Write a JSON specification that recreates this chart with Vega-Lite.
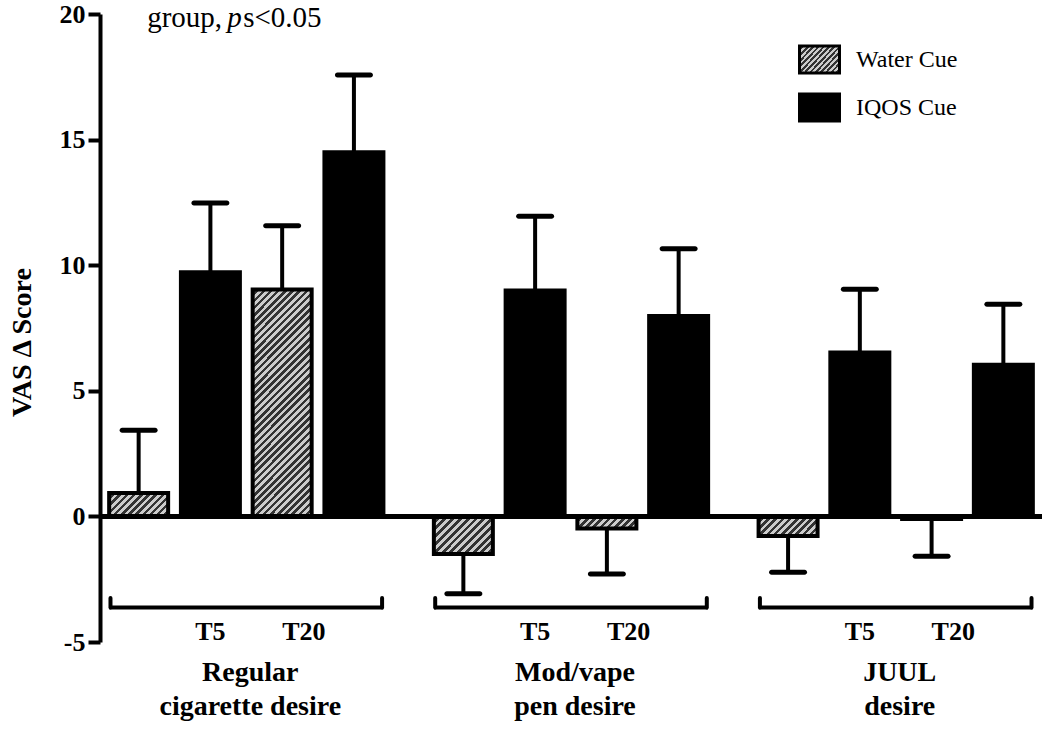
{
"$schema": "https://vega.github.io/schema/vega-lite/v6.json",
"width": 942, "height": 628,
"autosize": {"type": "none"},
"padding": {"left": 100, "top": 14, "right": 8, "bottom": 88},
"background": "white",
"config": {
  "view": {"stroke": null},
  "font": "Liberation Serif",
  "axisY": {"domainColor": "black", "domainWidth": 4, "tickColor": "black", "tickWidth": 4, "tickSize": 12, "labelFont": "Liberation Serif", "labelFontSize": 26, "labelFontWeight": "bold", "labelColor": "black", "labelPadding": 3, "grid": false, "labelExpr": "datum.value < 0 ? '-' + (-datum.value) : '' + datum.value", "titleFont": "Liberation Serif", "titleFontSize": 28, "titleFontWeight": "bold", "titleColor": "black", "titleX": -78, "titleY": 328, "titleAngle": -90, "titleAlign": "center", "titleBaseline": "middle"},
  "axisX": {"domain": false, "ticks": false, "tickSize": 0, "grid": false, "labelFont": "Liberation Serif", "labelFontSize": 28, "labelFontWeight": "bold", "labelColor": "black", "labelPadding": 38, "labelBaseline": "alphabetic", "labelLineHeight": 34, "labelOffset": 4, "labelAngle": 0, "labelLimit": 400, "labelExpr": "datum.label == 'Regular cigarette desire' ? ['Regular', 'cigarette desire'] : datum.label == 'Mod/vape pen desire' ? ['Mod/vape', 'pen desire'] : ['JUUL', 'desire']"}
},
"data": {"values": [
  {"group": "Regular cigarette desire", "time": "T5", "cue": "Water Cue", "slot": "W5", "id": "g1w5", "mean": 0.93, "err": 3.43},
  {"group": "Regular cigarette desire", "time": "T5", "cue": "IQOS Cue", "slot": "I5", "id": "g1i5", "mean": 9.72, "err": 12.48},
  {"group": "Regular cigarette desire", "time": "T20", "cue": "Water Cue", "slot": "W20", "id": "g1w20", "mean": 9.03, "err": 11.57},
  {"group": "Regular cigarette desire", "time": "T20", "cue": "IQOS Cue", "slot": "I20", "id": "g1i20", "mean": 14.5, "err": 17.57},
  {"group": "Mod/vape pen desire", "time": "T5", "cue": "Water Cue", "slot": "W5", "id": "g2w5", "mean": -1.5, "err": -3.08},
  {"group": "Mod/vape pen desire", "time": "T5", "cue": "IQOS Cue", "slot": "I5", "id": "g2i5", "mean": 8.99, "err": 11.95},
  {"group": "Mod/vape pen desire", "time": "T20", "cue": "Water Cue", "slot": "W20", "id": "g2w20", "mean": -0.48, "err": -2.29},
  {"group": "Mod/vape pen desire", "time": "T20", "cue": "IQOS Cue", "slot": "I20", "id": "g2i20", "mean": 7.98, "err": 10.65},
  {"group": "JUUL desire", "time": "T5", "cue": "Water Cue", "slot": "W5", "id": "g3w5", "mean": -0.78, "err": -2.22},
  {"group": "JUUL desire", "time": "T5", "cue": "IQOS Cue", "slot": "I5", "id": "g3i5", "mean": 6.52, "err": 9.04},
  {"group": "JUUL desire", "time": "T20", "cue": "Water Cue", "slot": "W20", "id": "g3w20", "mean": -0.1, "err": -1.59},
  {"group": "JUUL desire", "time": "T20", "cue": "IQOS Cue", "slot": "I20", "id": "g3i20", "mean": 6.04, "err": 8.45}
]},
"layer": [
  {
    "mark": {"type": "bar", "stroke": "black", "strokeWidth": 4, "opacity": 1},
    "encoding": {
      "x": {"field": "group", "type": "nominal", "scale": {"domain": ["Regular cigarette desire", "Mod/vape pen desire", "JUUL desire"], "paddingInner": 0.143, "paddingOuter": 0.022}, "axis": {"title": null}},
      "xOffset": {"field": "slot", "type": "nominal", "scale": {"domain": ["W5", "I5", "W20", "I20"], "paddingInner": 0.178, "paddingOuter": 0.028}},
      "y": {"field": "mean", "type": "quantitative", "stack": null, "scale": {"domain": [-5, 20], "nice": false}, "title": "VAS Δ Score", "axis": {"values": [-5, 0, 5, 10, 15, 20], "title": "VAS Δ Score"}},
      "fill": {
        "condition": [
          {"test": "datum.id === 'g1w5'", "value": {"gradient": "linear", "x1": 0, "y1": 0, "x2": 1.315, "y2": 0.52, "stops": [{"offset":0,"color":"#ccc"},{"offset":0.04,"color":"#ccc"},{"offset":0.04,"color":"#333"},{"offset":0.08,"color":"#333"},{"offset":0.08,"color":"#ccc"},{"offset":0.12,"color":"#ccc"},{"offset":0.12,"color":"#333"},{"offset":0.16,"color":"#333"},{"offset":0.16,"color":"#ccc"},{"offset":0.2,"color":"#ccc"},{"offset":0.2,"color":"#333"},{"offset":0.24,"color":"#333"},{"offset":0.24,"color":"#ccc"},{"offset":0.28,"color":"#ccc"},{"offset":0.28,"color":"#333"},{"offset":0.32,"color":"#333"},{"offset":0.32,"color":"#ccc"},{"offset":0.36,"color":"#ccc"},{"offset":0.36,"color":"#333"},{"offset":0.4,"color":"#333"},{"offset":0.4,"color":"#ccc"},{"offset":0.44,"color":"#ccc"},{"offset":0.44,"color":"#333"},{"offset":0.48,"color":"#333"},{"offset":0.48,"color":"#ccc"},{"offset":0.52,"color":"#ccc"},{"offset":0.52,"color":"#333"},{"offset":0.56,"color":"#333"},{"offset":0.56,"color":"#ccc"},{"offset":0.6,"color":"#ccc"},{"offset":0.6,"color":"#333"},{"offset":0.64,"color":"#333"},{"offset":0.64,"color":"#ccc"},{"offset":0.68,"color":"#ccc"},{"offset":0.68,"color":"#333"},{"offset":0.72,"color":"#333"},{"offset":0.72,"color":"#ccc"},{"offset":0.76,"color":"#ccc"},{"offset":0.76,"color":"#333"},{"offset":0.8,"color":"#333"},{"offset":0.8,"color":"#ccc"},{"offset":0.84,"color":"#ccc"},{"offset":0.84,"color":"#333"},{"offset":0.88,"color":"#333"},{"offset":0.88,"color":"#ccc"},{"offset":0.92,"color":"#ccc"},{"offset":0.92,"color":"#333"},{"offset":0.96,"color":"#333"},{"offset":0.96,"color":"#ccc"},{"offset":1,"color":"#ccc"}]}},
          {"test": "datum.id === 'g1w20'", "value": {"gradient": "linear", "x1": 0, "y1": 0, "x2": 0.3103, "y2": 1.1889, "stops": [
            {"offset":0,"color":"#ccc"},{"offset":0.0125,"color":"#ccc"},{"offset":0.0125,"color":"#333"},{"offset":0.025,"color":"#333"},
            {"offset":0.025,"color":"#ccc"},{"offset":0.0375,"color":"#ccc"},{"offset":0.0375,"color":"#333"},{"offset":0.05,"color":"#333"},
            {"offset":0.05,"color":"#ccc"},{"offset":0.0625,"color":"#ccc"},{"offset":0.0625,"color":"#333"},{"offset":0.075,"color":"#333"},
            {"offset":0.075,"color":"#ccc"},{"offset":0.0875,"color":"#ccc"},{"offset":0.0875,"color":"#333"},{"offset":0.1,"color":"#333"},
            {"offset":0.1,"color":"#ccc"},{"offset":0.1125,"color":"#ccc"},{"offset":0.1125,"color":"#333"},{"offset":0.125,"color":"#333"},
            {"offset":0.125,"color":"#ccc"},{"offset":0.1375,"color":"#ccc"},{"offset":0.1375,"color":"#333"},{"offset":0.15,"color":"#333"},
            {"offset":0.15,"color":"#ccc"},{"offset":0.1625,"color":"#ccc"},{"offset":0.1625,"color":"#333"},{"offset":0.175,"color":"#333"},
            {"offset":0.175,"color":"#ccc"},{"offset":0.1875,"color":"#ccc"},{"offset":0.1875,"color":"#333"},{"offset":0.2,"color":"#333"},
            {"offset":0.2,"color":"#ccc"},{"offset":0.2125,"color":"#ccc"},{"offset":0.2125,"color":"#333"},{"offset":0.225,"color":"#333"},
            {"offset":0.225,"color":"#ccc"},{"offset":0.2375,"color":"#ccc"},{"offset":0.2375,"color":"#333"},{"offset":0.25,"color":"#333"},
            {"offset":0.25,"color":"#ccc"},{"offset":0.2625,"color":"#ccc"},{"offset":0.2625,"color":"#333"},{"offset":0.275,"color":"#333"},
            {"offset":0.275,"color":"#ccc"},{"offset":0.2875,"color":"#ccc"},{"offset":0.2875,"color":"#333"},{"offset":0.3,"color":"#333"},
            {"offset":0.3,"color":"#ccc"},{"offset":0.3125,"color":"#ccc"},{"offset":0.3125,"color":"#333"},{"offset":0.325,"color":"#333"},
            {"offset":0.325,"color":"#ccc"},{"offset":0.3375,"color":"#ccc"},{"offset":0.3375,"color":"#333"},{"offset":0.35,"color":"#333"},
            {"offset":0.35,"color":"#ccc"},{"offset":0.3625,"color":"#ccc"},{"offset":0.3625,"color":"#333"},{"offset":0.375,"color":"#333"},
            {"offset":0.375,"color":"#ccc"},{"offset":0.3875,"color":"#ccc"},{"offset":0.3875,"color":"#333"},{"offset":0.4,"color":"#333"},
            {"offset":0.4,"color":"#ccc"},{"offset":0.4125,"color":"#ccc"},{"offset":0.4125,"color":"#333"},{"offset":0.425,"color":"#333"},
            {"offset":0.425,"color":"#ccc"},{"offset":0.4375,"color":"#ccc"},{"offset":0.4375,"color":"#333"},{"offset":0.45,"color":"#333"},
            {"offset":0.45,"color":"#ccc"},{"offset":0.4625,"color":"#ccc"},{"offset":0.4625,"color":"#333"},{"offset":0.475,"color":"#333"},
            {"offset":0.475,"color":"#ccc"},{"offset":0.4875,"color":"#ccc"},{"offset":0.4875,"color":"#333"},{"offset":0.5,"color":"#333"},
            {"offset":0.5,"color":"#ccc"},{"offset":0.5125,"color":"#ccc"},{"offset":0.5125,"color":"#333"},{"offset":0.525,"color":"#333"},
            {"offset":0.525,"color":"#ccc"},{"offset":0.5375,"color":"#ccc"},{"offset":0.5375,"color":"#333"},{"offset":0.55,"color":"#333"},
            {"offset":0.55,"color":"#ccc"},{"offset":0.5625,"color":"#ccc"},{"offset":0.5625,"color":"#333"},{"offset":0.575,"color":"#333"},
            {"offset":0.575,"color":"#ccc"},{"offset":0.5875,"color":"#ccc"},{"offset":0.5875,"color":"#333"},{"offset":0.6,"color":"#333"},
            {"offset":0.6,"color":"#ccc"},{"offset":0.6125,"color":"#ccc"},{"offset":0.6125,"color":"#333"},{"offset":0.625,"color":"#333"},
            {"offset":0.625,"color":"#ccc"},{"offset":0.6375,"color":"#ccc"},{"offset":0.6375,"color":"#333"},{"offset":0.65,"color":"#333"},
            {"offset":0.65,"color":"#ccc"},{"offset":0.6625,"color":"#ccc"},{"offset":0.6625,"color":"#333"},{"offset":0.675,"color":"#333"},
            {"offset":0.675,"color":"#ccc"},{"offset":0.6875,"color":"#ccc"},{"offset":0.6875,"color":"#333"},{"offset":0.7,"color":"#333"},
            {"offset":0.7,"color":"#ccc"},{"offset":0.7125,"color":"#ccc"},{"offset":0.7125,"color":"#333"},{"offset":0.725,"color":"#333"},
            {"offset":0.725,"color":"#ccc"},{"offset":0.7375,"color":"#ccc"},{"offset":0.7375,"color":"#333"},{"offset":0.75,"color":"#333"},
            {"offset":0.75,"color":"#ccc"},{"offset":0.7625,"color":"#ccc"},{"offset":0.7625,"color":"#333"},{"offset":0.775,"color":"#333"},
            {"offset":0.775,"color":"#ccc"},{"offset":0.7875,"color":"#ccc"},{"offset":0.7875,"color":"#333"},{"offset":0.8,"color":"#333"},
            {"offset":0.8,"color":"#ccc"},{"offset":0.8125,"color":"#ccc"},{"offset":0.8125,"color":"#333"},{"offset":0.825,"color":"#333"},
            {"offset":0.825,"color":"#ccc"},{"offset":0.8375,"color":"#ccc"},{"offset":0.8375,"color":"#333"},{"offset":0.85,"color":"#333"},
            {"offset":0.85,"color":"#ccc"},{"offset":0.8625,"color":"#ccc"},{"offset":0.8625,"color":"#333"},{"offset":0.875,"color":"#333"},
            {"offset":0.875,"color":"#ccc"},{"offset":0.8875,"color":"#ccc"},{"offset":0.8875,"color":"#333"},{"offset":0.9,"color":"#333"},
            {"offset":0.9,"color":"#ccc"},{"offset":0.9125,"color":"#ccc"},{"offset":0.9125,"color":"#333"},{"offset":0.925,"color":"#333"},
            {"offset":0.925,"color":"#ccc"},{"offset":0.9375,"color":"#ccc"},{"offset":0.9375,"color":"#333"},{"offset":0.95,"color":"#333"},
            {"offset":0.95,"color":"#ccc"},{"offset":0.9625,"color":"#ccc"},{"offset":0.9625,"color":"#333"},{"offset":0.975,"color":"#333"},
            {"offset":0.975,"color":"#ccc"},{"offset":0.9875,"color":"#ccc"},{"offset":0.9875,"color":"#333"},{"offset":1,"color":"#333"}]}},
          {"test": "datum.id === 'g2w5'", "value": {"gradient": "linear", "x1": 0, "y1": 0, "x2": 1.172, "y2": 0.746, "stops": [{"offset":0,"color":"#ccc"},{"offset":0.04,"color":"#ccc"},{"offset":0.04,"color":"#333"},{"offset":0.08,"color":"#333"},{"offset":0.08,"color":"#ccc"},{"offset":0.12,"color":"#ccc"},{"offset":0.12,"color":"#333"},{"offset":0.16,"color":"#333"},{"offset":0.16,"color":"#ccc"},{"offset":0.2,"color":"#ccc"},{"offset":0.2,"color":"#333"},{"offset":0.24,"color":"#333"},{"offset":0.24,"color":"#ccc"},{"offset":0.28,"color":"#ccc"},{"offset":0.28,"color":"#333"},{"offset":0.32,"color":"#333"},{"offset":0.32,"color":"#ccc"},{"offset":0.36,"color":"#ccc"},{"offset":0.36,"color":"#333"},{"offset":0.4,"color":"#333"},{"offset":0.4,"color":"#ccc"},{"offset":0.44,"color":"#ccc"},{"offset":0.44,"color":"#333"},{"offset":0.48,"color":"#333"},{"offset":0.48,"color":"#ccc"},{"offset":0.52,"color":"#ccc"},{"offset":0.52,"color":"#333"},{"offset":0.56,"color":"#333"},{"offset":0.56,"color":"#ccc"},{"offset":0.6,"color":"#ccc"},{"offset":0.6,"color":"#333"},{"offset":0.64,"color":"#333"},{"offset":0.64,"color":"#ccc"},{"offset":0.68,"color":"#ccc"},{"offset":0.68,"color":"#333"},{"offset":0.72,"color":"#333"},{"offset":0.72,"color":"#ccc"},{"offset":0.76,"color":"#ccc"},{"offset":0.76,"color":"#333"},{"offset":0.8,"color":"#333"},{"offset":0.8,"color":"#ccc"},{"offset":0.84,"color":"#ccc"},{"offset":0.84,"color":"#333"},{"offset":0.88,"color":"#333"},{"offset":0.88,"color":"#ccc"},{"offset":0.92,"color":"#ccc"},{"offset":0.92,"color":"#333"},{"offset":0.96,"color":"#333"},{"offset":0.96,"color":"#ccc"},{"offset":1,"color":"#ccc"}]}},
          {"test": "datum.id === 'g2w20'", "value": {"gradient": "linear", "x1": 0, "y1": 0, "x2": 1.168, "y2": 0.238, "stops": [{"offset":0,"color":"#ccc"},{"offset":0.05,"color":"#ccc"},{"offset":0.05,"color":"#333"},{"offset":0.1,"color":"#333"},{"offset":0.1,"color":"#ccc"},{"offset":0.15,"color":"#ccc"},{"offset":0.15,"color":"#333"},{"offset":0.2,"color":"#333"},{"offset":0.2,"color":"#ccc"},{"offset":0.25,"color":"#ccc"},{"offset":0.25,"color":"#333"},{"offset":0.3,"color":"#333"},{"offset":0.3,"color":"#ccc"},{"offset":0.35,"color":"#ccc"},{"offset":0.35,"color":"#333"},{"offset":0.4,"color":"#333"},{"offset":0.4,"color":"#ccc"},{"offset":0.45,"color":"#ccc"},{"offset":0.45,"color":"#333"},{"offset":0.5,"color":"#333"},{"offset":0.5,"color":"#ccc"},{"offset":0.55,"color":"#ccc"},{"offset":0.55,"color":"#333"},{"offset":0.6,"color":"#333"},{"offset":0.6,"color":"#ccc"},{"offset":0.65,"color":"#ccc"},{"offset":0.65,"color":"#333"},{"offset":0.7,"color":"#333"},{"offset":0.7,"color":"#ccc"},{"offset":0.75,"color":"#ccc"},{"offset":0.75,"color":"#333"},{"offset":0.8,"color":"#333"},{"offset":0.8,"color":"#ccc"},{"offset":0.85,"color":"#ccc"},{"offset":0.85,"color":"#333"},{"offset":0.9,"color":"#333"},{"offset":0.9,"color":"#ccc"},{"offset":0.95,"color":"#ccc"},{"offset":0.95,"color":"#333"},{"offset":1,"color":"#333"}]}},
          {"test": "datum.id === 'g3w5'", "value": {"gradient": "linear", "x1": 0, "y1": 0, "x2": 1.37, "y2": 0.4536, "stops": [{"offset":0,"color":"#ccc"},{"offset":0.04,"color":"#ccc"},{"offset":0.04,"color":"#333"},{"offset":0.08,"color":"#333"},{"offset":0.08,"color":"#ccc"},{"offset":0.12,"color":"#ccc"},{"offset":0.12,"color":"#333"},{"offset":0.16,"color":"#333"},{"offset":0.16,"color":"#ccc"},{"offset":0.2,"color":"#ccc"},{"offset":0.2,"color":"#333"},{"offset":0.24,"color":"#333"},{"offset":0.24,"color":"#ccc"},{"offset":0.28,"color":"#ccc"},{"offset":0.28,"color":"#333"},{"offset":0.32,"color":"#333"},{"offset":0.32,"color":"#ccc"},{"offset":0.36,"color":"#ccc"},{"offset":0.36,"color":"#333"},{"offset":0.4,"color":"#333"},{"offset":0.4,"color":"#ccc"},{"offset":0.44,"color":"#ccc"},{"offset":0.44,"color":"#333"},{"offset":0.48,"color":"#333"},{"offset":0.48,"color":"#ccc"},{"offset":0.52,"color":"#ccc"},{"offset":0.52,"color":"#333"},{"offset":0.56,"color":"#333"},{"offset":0.56,"color":"#ccc"},{"offset":0.6,"color":"#ccc"},{"offset":0.6,"color":"#333"},{"offset":0.64,"color":"#333"},{"offset":0.64,"color":"#ccc"},{"offset":0.68,"color":"#ccc"},{"offset":0.68,"color":"#333"},{"offset":0.72,"color":"#333"},{"offset":0.72,"color":"#ccc"},{"offset":0.76,"color":"#ccc"},{"offset":0.76,"color":"#333"},{"offset":0.8,"color":"#333"},{"offset":0.8,"color":"#ccc"},{"offset":0.84,"color":"#ccc"},{"offset":0.84,"color":"#333"},{"offset":0.88,"color":"#333"},{"offset":0.88,"color":"#ccc"},{"offset":0.92,"color":"#ccc"},{"offset":0.92,"color":"#333"},{"offset":0.96,"color":"#333"},{"offset":0.96,"color":"#ccc"},{"offset":1,"color":"#ccc"}]}},
          {"test": "datum.id === 'g3w20'", "value": {"gradient": "linear", "x1": 0, "y1": 0, "x2": 1.214, "y2": 0.0513, "stops": [{"offset":0,"color":"#ccc"},{"offset":0.05,"color":"#ccc"},{"offset":0.05,"color":"#333"},{"offset":0.1,"color":"#333"},{"offset":0.1,"color":"#ccc"},{"offset":0.15,"color":"#ccc"},{"offset":0.15,"color":"#333"},{"offset":0.2,"color":"#333"},{"offset":0.2,"color":"#ccc"},{"offset":0.25,"color":"#ccc"},{"offset":0.25,"color":"#333"},{"offset":0.3,"color":"#333"},{"offset":0.3,"color":"#ccc"},{"offset":0.35,"color":"#ccc"},{"offset":0.35,"color":"#333"},{"offset":0.4,"color":"#333"},{"offset":0.4,"color":"#ccc"},{"offset":0.45,"color":"#ccc"},{"offset":0.45,"color":"#333"},{"offset":0.5,"color":"#333"},{"offset":0.5,"color":"#ccc"},{"offset":0.55,"color":"#ccc"},{"offset":0.55,"color":"#333"},{"offset":0.6,"color":"#333"},{"offset":0.6,"color":"#ccc"},{"offset":0.65,"color":"#ccc"},{"offset":0.65,"color":"#333"},{"offset":0.7,"color":"#333"},{"offset":0.7,"color":"#ccc"},{"offset":0.75,"color":"#ccc"},{"offset":0.75,"color":"#333"},{"offset":0.8,"color":"#333"},{"offset":0.8,"color":"#ccc"},{"offset":0.85,"color":"#ccc"},{"offset":0.85,"color":"#333"},{"offset":0.9,"color":"#333"},{"offset":0.9,"color":"#ccc"},{"offset":0.95,"color":"#ccc"},{"offset":0.95,"color":"#333"},{"offset":1,"color":"#333"}]}}
        ],
        "field": "cue", "type": "nominal",
        "scale": {"domain": ["Water Cue", "IQOS Cue"], "range": ["url(#gradient_2) #999999", "#000000"]},
        "legend": {"title": null, "orient": "none", "legendX": 698, "legendY": 24, "direction": "vertical", "symbolType": "M-1,-0.68H1V0.68H-1Z", "symbolSize": 1600, "symbolStrokeColor": "black", "symbolStrokeWidth": 3, "symbolOpacity": 1, "labelFont": "Liberation Serif", "labelFontSize": 24, "labelColor": "black", "labelOffset": 15, "rowPadding": 6, "padding": 0, "labelLimit": 300,
          "encode": {"symbols": {"update": {"stroke": {"value": "black"}, "strokeWidth": {"value": 3}}}}
        }
      }
    }
  },
  {
    "mark": {"type": "rule", "strokeWidth": 4.5, "color": "black"},
    "encoding": {"y": {"datum": 0, "type": "quantitative", "scale": {"domain": [-5, 20], "nice": false}, "title": "VAS Δ Score"}}
  },
  {
    "mark": {"type": "rule", "strokeWidth": 4, "color": "black"},
    "encoding": {
      "x": {"field": "group", "type": "nominal", "scale": {"domain": ["Regular cigarette desire", "Mod/vape pen desire", "JUUL desire"], "paddingInner": 0.143, "paddingOuter": 0.022}},
      "xOffset": {"field": "slot", "type": "nominal", "scale": {"domain": ["W5", "I5", "W20", "I20"], "paddingInner": 0.178, "paddingOuter": 0.028}},
      "y": {"field": "mean", "type": "quantitative", "scale": {"domain": [-5, 20], "nice": false}, "title": "VAS Δ Score"},
      "y2": {"field": "err"}
    }
  },
  {
    "mark": {"type": "tick", "size": 38, "thickness": 5, "cornerRadius": 2.5, "color": "black", "opacity": 1},
    "encoding": {
      "x": {"field": "group", "type": "nominal", "scale": {"domain": ["Regular cigarette desire", "Mod/vape pen desire", "JUUL desire"], "paddingInner": 0.143, "paddingOuter": 0.022}},
      "xOffset": {"field": "slot", "type": "nominal", "scale": {"domain": ["W5", "I5", "W20", "I20"], "paddingInner": 0.178, "paddingOuter": 0.028}},
      "y": {"field": "err", "type": "quantitative", "scale": {"domain": [-5, 20], "nice": false}, "title": "VAS Δ Score"}
    }
  },
  {
    "transform": [{"filter": "datum.slot === 'W5'"}],
    "mark": {"type": "tick", "size": 274, "thickness": 4, "color": "black", "opacity": 1},
    "encoding": {
      "x": {"field": "group", "type": "nominal", "scale": {"domain": ["Regular cigarette desire", "Mod/vape pen desire", "JUUL desire"], "paddingInner": 0.143, "paddingOuter": 0.022}},
      "y": {"datum": -3.63, "type": "quantitative", "scale": {"domain": [-5, 20], "nice": false}, "title": "VAS Δ Score"}
    }
  },
  {
    "transform": [{"filter": "datum.slot === 'W5'"}],
    "mark": {"type": "rule", "strokeWidth": 4, "strokeCap": "round", "color": "black"},
    "encoding": {
      "x": {"field": "group", "type": "nominal", "scale": {"domain": ["Regular cigarette desire", "Mod/vape pen desire", "JUUL desire"], "paddingInner": 0.143, "paddingOuter": 0.022}, "bandPosition": 0.012},
      "y": {"datum": -3.63, "type": "quantitative", "scale": {"domain": [-5, 20], "nice": false}, "title": "VAS Δ Score"},
      "y2": {"datum": -3.25}
    }
  },
  {
    "transform": [{"filter": "datum.slot === 'W5'"}],
    "mark": {"type": "rule", "strokeWidth": 4, "strokeCap": "round", "color": "black"},
    "encoding": {
      "x": {"field": "group", "type": "nominal", "scale": {"domain": ["Regular cigarette desire", "Mod/vape pen desire", "JUUL desire"], "paddingInner": 0.143, "paddingOuter": 0.022}, "bandPosition": 0.988},
      "y": {"datum": -3.63, "type": "quantitative", "scale": {"domain": [-5, 20], "nice": false}, "title": "VAS Δ Score"},
      "y2": {"datum": -3.25}
    }
  },
  {
    "transform": [{"filter": "datum.slot === 'I5'"}],
    "mark": {"type": "text", "font": "Liberation Serif", "fontSize": 26, "fontWeight": "bold", "align": "center", "baseline": "alphabetic", "color": "black"},
    "encoding": {
      "x": {"field": "group", "type": "nominal", "scale": {"domain": ["Regular cigarette desire", "Mod/vape pen desire", "JUUL desire"], "paddingInner": 0.143, "paddingOuter": 0.022}},
      "xOffset": {"field": "slot", "type": "nominal", "scale": {"domain": ["W5", "I5", "W20", "I20"], "paddingInner": 0.178, "paddingOuter": 0.028}},
      "y": {"datum": -4.94, "type": "quantitative", "scale": {"domain": [-5, 20], "nice": false}, "title": "VAS Δ Score"},
      "text": {"field": "time"}
    }
  },
  {
    "transform": [{"filter": "datum.slot === 'W20'"}],
    "mark": {"type": "text", "font": "Liberation Serif", "fontSize": 26, "fontWeight": "bold", "align": "left", "baseline": "alphabetic", "color": "black"},
    "encoding": {
      "x": {"field": "group", "type": "nominal", "scale": {"domain": ["Regular cigarette desire", "Mod/vape pen desire", "JUUL desire"], "paddingInner": 0.143, "paddingOuter": 0.022}},
      "xOffset": {"field": "slot", "type": "nominal", "scale": {"domain": ["W5", "I5", "W20", "I20"], "paddingInner": 0.178, "paddingOuter": 0.028}},
      "y": {"datum": -4.94, "type": "quantitative", "scale": {"domain": [-5, 20], "nice": false}, "title": "VAS Δ Score"},
      "text": {"field": "time"}
    }
  },
  {
    "transform": [{"filter": "datum.id === 'g1w5'"}],
    "mark": {"type": "text", "text": "group,", "font": "Liberation Serif", "fontSize": 29, "align": "left", "baseline": "alphabetic", "color": "black", "dx": 40},
    "encoding": {
      "x": {"field": "group", "type": "nominal", "scale": {"domain": ["Regular cigarette desire", "Mod/vape pen desire", "JUUL desire"], "paddingInner": 0.143, "paddingOuter": 0.022}, "bandPosition": 0},
      "y": {"datum": 19.48, "type": "quantitative", "scale": {"domain": [-5, 20], "nice": false}, "title": "VAS Δ Score"}
    }
  },
  {
    "transform": [{"filter": "datum.id === 'g1w5'"}],
    "mark": {"type": "text", "text": "p", "font": "Liberation Serif", "fontSize": 29, "fontStyle": "italic", "align": "left", "baseline": "alphabetic", "color": "black", "dx": 120},
    "encoding": {
      "x": {"field": "group", "type": "nominal", "scale": {"domain": ["Regular cigarette desire", "Mod/vape pen desire", "JUUL desire"], "paddingInner": 0.143, "paddingOuter": 0.022}, "bandPosition": 0},
      "y": {"datum": 19.48, "type": "quantitative", "scale": {"domain": [-5, 20], "nice": false}, "title": "VAS Δ Score"}
    }
  },
  {
    "transform": [{"filter": "datum.id === 'g1w5'"}],
    "mark": {"type": "text", "text": "s<0.05", "font": "Liberation Serif", "fontSize": 29, "align": "left", "baseline": "alphabetic", "color": "black", "dx": 136},
    "encoding": {
      "x": {"field": "group", "type": "nominal", "scale": {"domain": ["Regular cigarette desire", "Mod/vape pen desire", "JUUL desire"], "paddingInner": 0.143, "paddingOuter": 0.022}, "bandPosition": 0},
      "y": {"datum": 19.48, "type": "quantitative", "scale": {"domain": [-5, 20], "nice": false}, "title": "VAS Δ Score"}
    }
  }
]
}
